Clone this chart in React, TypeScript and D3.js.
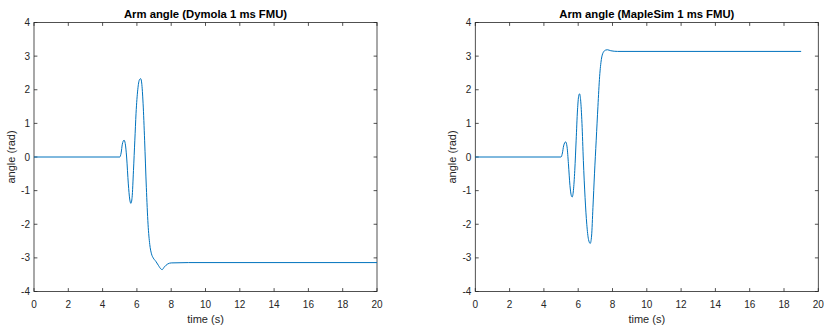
import * as d3 from "d3";

// time (s) and angle (rad)
const dymolaT = [0, 5.0, 5.08, 5.15, 5.25, 5.32, 5.4, 5.5, 5.58, 5.65, 5.72, 5.8, 5.88, 5.95, 6.05, 6.15, 6.22, 6.28, 6.36, 6.45, 6.55, 6.65, 6.75, 6.85, 6.95, 7.1, 7.25, 7.4, 7.47, 7.6, 7.8, 8.0, 9, 20];
const dymolaY = [0, 0, 0.12, 0.38, 0.5, 0.4, 0.0, -0.8, -1.25, -1.38, -1.2, -0.4, 0.5, 1.3, 2.0, 2.3, 2.33, 2.2, 1.6, 0.5, -0.9, -2.0, -2.6, -2.88, -3.0, -3.1, -3.22, -3.33, -3.35, -3.27, -3.18, -3.15, -3.14, -3.14];

const mapleT = [0, 5.0, 5.08, 5.15, 5.27, 5.35, 5.43, 5.52, 5.6, 5.65, 5.72, 5.8, 5.88, 5.96, 6.03, 6.08, 6.14, 6.22, 6.3, 6.4, 6.5, 6.6, 6.7, 6.78, 6.86, 6.95, 7.05, 7.15, 7.25, 7.35, 7.45, 7.6, 7.7, 7.9, 8.3, 19];
const mapleY = [0, 0, 0.12, 0.33, 0.45, 0.3, -0.2, -0.85, -1.15, -1.19, -1.0, -0.4, 0.5, 1.4, 1.82, 1.88, 1.7, 1.0, -0.1, -1.2, -2.0, -2.45, -2.57, -2.35, -1.5, -0.5, 0.5, 1.5, 2.4, 2.9, 3.1, 3.18, 3.19, 3.16, 3.14, 3.14];

const xTicks = [0, 2, 4, 6, 8, 10, 12, 14, 16, 18, 20];
const yTicks = [-4, -3, -2, -1, 0, 1, 2, 3, 4];

const titles = ["Arm angle (Dymola 1 ms FMU)", "Arm angle (MapleSim 1 ms FMU)"];

const ink = "#262626";
const font = "'Liberation Sans', Arial, sans-serif";

function Panel({ left, title, ts, ys }: { left: number; title: string; ts: number[]; ys: number[] }) {
  const top = 22.5, bottom = 291.5, w = 343;
  const x = d3.scaleLinear().domain([0, 20]).range([left, left + w]);
  const y = d3.scaleLinear().domain([-4, 4]).range([bottom, top]);
  const pts = ts.map((t, i) => [t, ys[i]] as [number, number]);
  const line = d3.line<[number, number]>()
    .x((d) => x(d[0]))
    .y((d) => y(d[1]))
    .curve(d3.curveMonotoneX);
  const tl = 3.4;
  return (
    <g fontFamily={font} fill={ink}>
      <rect x={left} y={top} width={w} height={bottom - top} fill="white" stroke={ink} strokeWidth={0.8} />
      {xTicks.map((t) => (
        <g key={"x" + t}>
          <line x1={x(t)} x2={x(t)} y1={bottom} y2={bottom - tl} stroke={ink} strokeWidth={0.8} />
          <line x1={x(t)} x2={x(t)} y1={top} y2={top + tl} stroke={ink} strokeWidth={0.8} />
          <text x={x(t)} y={bottom + 16} fontSize={10} textAnchor="middle">{t}</text>
        </g>
      ))}
      {yTicks.map((t) => (
        <g key={"y" + t}>
          <line x1={left} x2={left + tl} y1={y(t)} y2={y(t)} stroke={ink} strokeWidth={0.8} />
          <line x1={left + w} x2={left + w - tl} y1={y(t)} y2={y(t)} stroke={ink} strokeWidth={0.8} />
          <text x={left - 4} y={y(t)} dy="0.35em" fontSize={10} textAnchor="end">{t}</text>
        </g>
      ))}
      <path d={line(pts) ?? ""} fill="none" stroke="#0072BD" strokeWidth={1} />
      <text x={left + w / 2} y={18} fontSize={11.3} fontWeight="bold" textAnchor="middle" fill="black">{title}</text>
      <text x={left + w / 2} y={322.5} fontSize={11} textAnchor="middle">time (s)</text>
      <text transform={`translate(${left - 19},${(top + bottom) / 2}) rotate(-90)`} fontSize={11} textAnchor="middle">angle (rad)</text>
    </g>
  );
}

export default function App() {
  return (
    <svg width={824} height={326} style={{ position: "absolute", left: 0, top: 0, background: "white" }}>
      <rect width={824} height={326} fill="white" />
      <Panel left={34} title={titles[0]} ts={dymolaT} ys={dymolaY} />
      <Panel left={475.3} title={titles[1]} ts={mapleT} ys={mapleY} />
    </svg>
  );
}
